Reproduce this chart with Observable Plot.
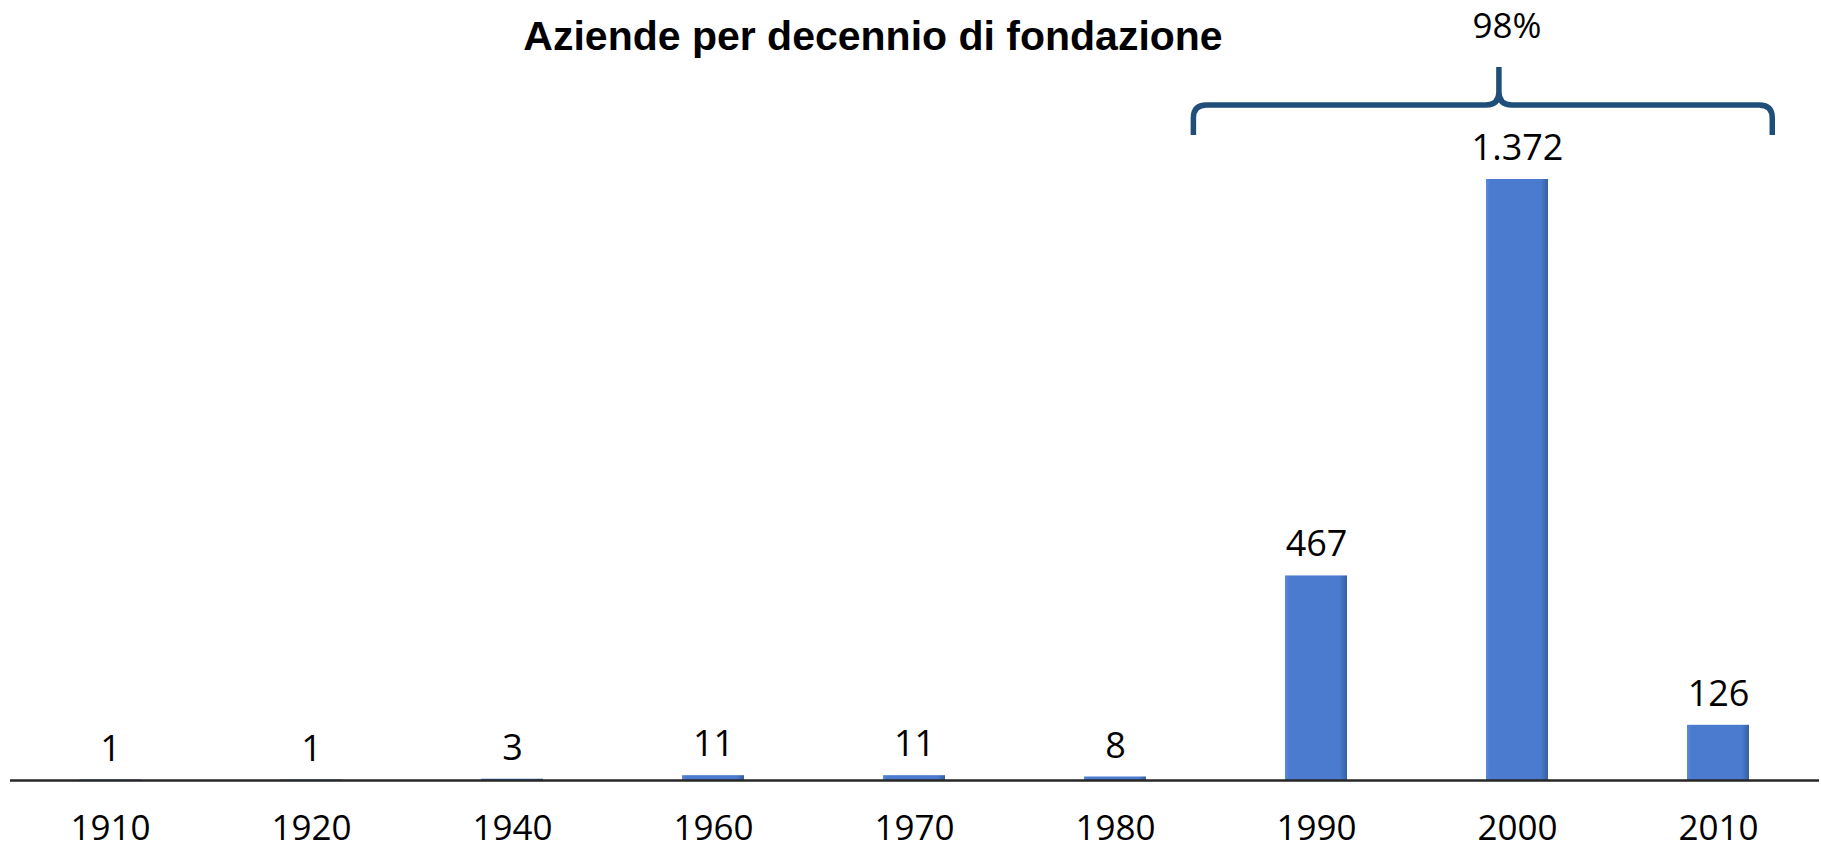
<!DOCTYPE html>
<html>
<head>
<meta charset="utf-8">
<script src="https://cdn.jsdelivr.net/npm/d3@7"></script>
<script src="https://cdn.jsdelivr.net/npm/@observablehq/plot@0.6"></script>
<style>
  body { margin: 0; background: #fff; }
  #wrap { position: relative; width: 1821px; height: 852px; }
  #title { position: absolute; left: 0; top: 16px; width: 1746px; text-align: center;
           font-family: "Liberation Sans", Arial, sans-serif; font-weight: bold; font-size: 41px; line-height: 1; color: #000; }
</style>
</head>
<body>
<div id="wrap">
  <div id="chart"></div>
  <div id="title">Aziende per decennio di fondazione</div>
</div>
<script>
const decades = ["1910", "1920", "1940", "1960", "1970", "1980", "1990", "2000", "2010"];
const companies = [1, 1, 3, 11, 11, 8, 467, 1372, 126];
const braceFrom = "1990";
const braceMid = "2000";
const braceTo = "2010";
const braceLabel = "98%";

const data = decades.map((d, i) => ({decade: d, count: companies[i]}));
const itFmt = d3.formatLocale({decimal: ",", thousands: ".", grouping: [3], currency: ["", "€"]}).format(",d");

const defs = () => {
  const svgDefs = d3.create("svg:defs");
  const g = svgDefs.append("linearGradient").attr("id", "barGrad").attr("x1", 0).attr("x2", 1).attr("y1", 0).attr("y2", 0);
  g.append("stop").attr("offset", "0%").attr("stop-color", "#5a8ada");
  g.append("stop").attr("offset", "7%").attr("stop-color", "#4a7bce");
  g.append("stop").attr("offset", "88%").attr("stop-color", "#4a7bce");
  g.append("stop").attr("offset", "100%").attr("stop-color", "#36609f");
  return svgDefs.node();
};

const brace = (index, scales) => {
  const x = scales.x, y = scales.y;
  const step = x(decades[1]) - x(decades[0]);
  const bw = typeof x.bandwidth === "function" ? x.bandwidth() : (x.bandwidth != null ? x.bandwidth : step * 0.31);
  const c = d => x(d) + bw / 2;
  const xl = c(braceFrom) - 0.61 * step;
  const xr = c(braceTo) + 0.27 * step;
  const xt = c(braceMid) - 0.09 * step;
  const yTop = y(d3.max(companies));
  const yh = yTop - 74, yt = yTop - 112, ye = yTop - 44;
  const g = d3.create("svg:g");
  g.append("path")
    .attr("d", `M${xl},${ye} V${yh + 13} Q${xl},${yh} ${xl + 13},${yh} H${xt - 13} Q${xt},${yh} ${xt},${yh - 13} V${yt}
                M${xt},${yh - 13} Q${xt},${yh} ${xt + 13},${yh} H${xr - 13} Q${xr},${yh} ${xr},${yh + 13} V${ye}`)
    .attr("fill", "none").attr("stroke", "#1f4e79").attr("stroke-width", 5.5).attr("stroke-linejoin", "round");
  g.append("text")
    .attr("x", xt + 8).attr("y", yTop - 153).attr("dy", "0.35em")
    .attr("text-anchor", "middle").attr("font-size", 35).attr("fill", "#000")
    .text(braceLabel);
  return g.node();
};

const chart = Plot.plot({
  width: 1821,
  height: 852,
  marginTop: 179,
  marginBottom: 72,
  marginLeft: 10,
  marginRight: 2,
  style: {fontFamily: "'Open Sans', sans-serif", color: "#000", background: "#fff"},
  x: {domain: decades, paddingInner: 0.69, paddingOuter: 0.345, label: null},
  y: {domain: [0, d3.max(companies)], axis: null},
  marks: [
    defs,
    Plot.barY(data, {x: "decade", y: "count", fill: "url(#barGrad)"}),
    Plot.ruleY([0], {stroke: "#262626", strokeWidth: 2.5}),
    Plot.text(data, {x: "decade", y: "count", text: d => itFmt(d.count), lineAnchor: "middle", dy: -31, fontSize: 36, fill: "#000"}),
    Plot.axisX({tickSize: 0, tickPadding: 35, fontSize: 35, label: null}),
    brace
  ]
});
document.getElementById("chart").appendChild(chart);
</script>
</body>
</html>
